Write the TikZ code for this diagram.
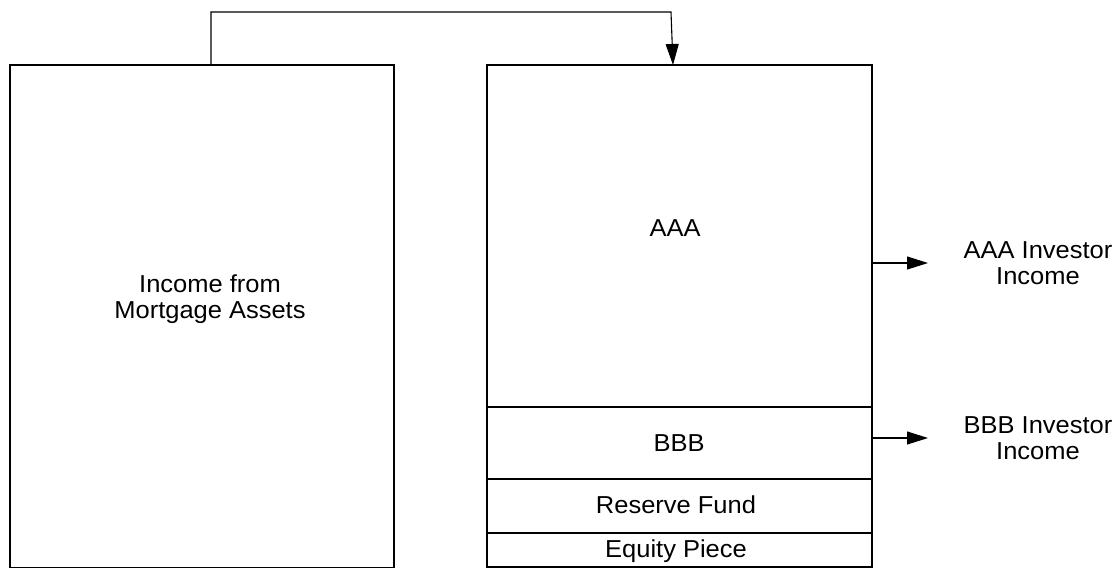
\documentclass[tikz,border=0pt]{standalone}
\usepackage{fontspec}
\setmainfont{Liberation Sans}[FakeStretch=1.04]
\usetikzlibrary{arrows.meta}
\begin{document}
\begin{tikzpicture}[x=1pt,y=-1pt,
  box/.style={draw=black,line width=1.1pt,minimum width=#1,inner sep=0pt,outer sep=0pt,anchor=north west},
  lbl/.style={font=\fontsize{24.5}{25.5}\selectfont,align=center,inner sep=0pt},
  arr/.style={line width=1.1pt,-{Triangle[length=21pt,width=13pt]}}]
\useasboundingbox (0,0) rectangle (1120,568);
\node[box=384pt,minimum height=503pt] (left) at (10,65) {};
\node[box=385pt,minimum height=342pt] (aaa) at (487,65) {};
\node[box=385pt,minimum height=72pt] (bbb) at (487,407) {};
\node[box=385pt,minimum height=54pt] (res) at (487,479) {};
\node[box=385pt,minimum height=34pt] (eq) at (487,533) {};
\node[lbl] (ltext) at (210,299) {Income from\\Mortgage Assets};
\node[lbl] (aaat) at (675,228) {AAA};
\node[lbl] (bbbt) at (679,443) {BBB};
\node[lbl] (rest) at (676,505) {Reserve Fund};
\node[lbl] (eqt) at (676,551) {Equity Piece};
\node[lbl] (ai) at (1038,263) {AAA Investor\\Income};
\node[lbl] (bi) at (1038,438) {BBB Investor\\Income};
\coordinate (top1) at (211,12);
\coordinate (top2) at (671,12);
\coordinate (a1) at (928,263);
\coordinate (b1) at (928,438);
\draw[arr] (left.north west -| top1) -- (top1) -- (top2) -- (aaa.north west -| 673,0);
\draw[arr] (aaa.east |- a1) -- (a1);
\draw[arr] (bbb.east |- b1) -- (b1);
\end{tikzpicture}
\end{document}
